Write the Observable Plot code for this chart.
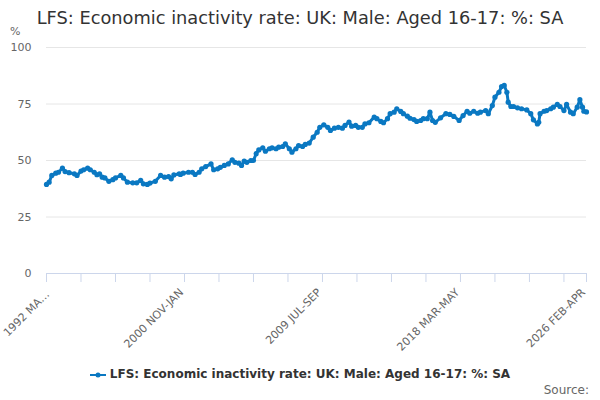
<!DOCTYPE html>
<html>
<head>
<meta charset="utf-8">
<script src="https://cdn.jsdelivr.net/npm/d3@7"></script>
<script src="https://cdn.jsdelivr.net/npm/@observablehq/plot@0.6"></script>
<style>
  body { margin:0; background:#fff; font-family:"DejaVu Sans", sans-serif; }
  #wrap { position:relative; width:600px; height:400px; overflow:hidden; }
  #title { position:absolute; left:0; top:6px; width:600px; text-align:center; font-size:17.8px; line-height:24px; color:#333; }
  #unit { position:absolute; left:10px; top:25px; font-size:11px; color:#666; }
  #chart { position:absolute; left:0; top:0; }
  #legend { position:absolute; left:0; top:366px; width:600px; text-align:center; font-size:12px; font-weight:bold; color:#333; line-height:16px; }
  #legend svg { vertical-align:middle; margin-right:4px; }
  #source { position:absolute; right:11px; top:383px; font-size:12px; color:#666; }
</style>
</head>
<body>
<div id="wrap">
  <div id="chart"></div>
  <div id="title">LFS: Economic inactivity rate: UK: Male: Aged 16-17: %: SA</div>
  <div id="unit">%</div>
  <div id="legend"></div>
  <div id="source">Source:</div>
</div>
<script>
// Month index from 1992 MAR-MAY (0) to 2026 FEB-APR (407)
const monthIndex = [0,2,4,7,9,12,14,17,21,23,26,28,31,33,36,38,40,42,44,47,50,52,56,58,61,65,68,71,73,76,78,82,86,89,92,94,96,100,101,103,107,110,112,115,117,120,124,126,129,131,134,137,140,142,145,147,149,151,154,156,158,160,163,165,168,170,173,175,178,180,183,185,188,190,193,195,198,201,204,206,209,212,214,217,220,223,225,228,230,233,235,238,240,243,247,249,252,254,257,259,262,264,267,269,272,274,277,279,282,284,287,289,291,293,297,301,304,307,311,314,317,319,322,325,327,331,333,336,338,341,343,345,347,348,350,352,355,358,362,365,367,370,371,372,375,377,380,382,385,387,390,392,395,397,400,402,404,405,407];
const rate = [39.4,40.4,43.4,44.4,44.8,46.6,45.1,44.6,44.1,43.4,45.3,45.9,46.6,45.9,44.8,43.7,44.1,42.6,42.3,40.8,41.5,42.3,43.4,42.3,40.4,40.1,40.1,41.2,39.7,39.4,40.0,40.8,43.4,42.6,42.9,41.9,43.6,44.1,43.8,44.4,44.8,44.8,43.8,44.8,46.3,47.3,48.5,45.9,46.3,47.0,47.8,48.5,50.3,49.2,48.8,47.8,49.7,49.2,50.0,50.0,53.0,54.7,55.6,54.1,55.2,55.6,55.2,55.9,56.2,57.4,55.2,53.7,55.2,56.6,56.2,57.1,57.7,60.3,62.5,64.7,65.8,64.7,63.3,64.3,64.7,64.3,65.5,67.0,65.2,65.5,64.7,64.7,66.2,66.7,69.2,68.5,67.3,66.7,68.5,70.7,71.4,72.9,71.7,70.7,69.6,68.7,68.1,67.3,67.7,68.5,68.5,71.4,67.7,66.9,68.9,70.7,70.4,69.5,67.7,69.9,71.8,70.9,71.8,70.9,71.4,72.1,70.7,74.3,78.0,80.2,82.7,83.2,80.2,75.8,73.9,73.9,73.3,72.9,72.4,70.7,68.0,66.2,66.9,70.7,71.8,72.1,72.9,73.6,74.8,73.9,72.1,74.8,71.4,70.7,73.6,76.9,73.6,71.8,71.5];

const minorTicks = [0,26,52,78,104,130,156,182,208,234,260,286,312,338,364,390,407];
const labelTicks = [0,104,208,312,407];
const tickLabels = ["1992 MA…","2000 NOV-JAN","2009 JUL-SEP","2018 MAR-MAY","2026 FEB-APR"];
const yTicks = [0,25,50,75,100];
const seriesName = "LFS: Economic inactivity rate: UK: Male: Aged 16-17: %: SA";
const color = "#0a78c2";

const data = monthIndex.map((m, k) => ({m, v: rate[k]}));
const fmt = d => tickLabels[labelTicks.indexOf(d)];

const chart = Plot.plot({
  width: 600,
  height: 345,
  marginTop: 47,
  marginLeft: 46,
  marginRight: 14,
  marginBottom: 72,
  x: {domain: [0, 407], axis: null},
  y: {domain: [0, 100], axis: null},
  style: {fontFamily: "DejaVu Sans", fontSize: "11px", color: "#666", background: "transparent", overflow: "visible"},
  marks: [
    Plot.gridY(yTicks.slice(1), {stroke: "#e6e6e6", strokeOpacity: 1}),
    Plot.axisY(yTicks, {tickSize: 0, tickPadding: 15, label: null, fill: "#666"}),
    Plot.axisX(minorTicks, {tickSize: 9, tickFormat: () => "", stroke: "#ccd6eb", strokeOpacity: 1, label: null}),
    Plot.axisX(labelTicks.slice(0, 1), {tickSize: 0, tickPadding: 19, tickRotate: -45, label: null, fill: "#666", dx: 1, tickFormat: fmt}),
    Plot.axisX(labelTicks.slice(1), {tickSize: 0, tickPadding: 17, tickRotate: -45, label: null, fill: "#666", dx: -3, tickFormat: fmt}),
    Plot.ruleY([0], {stroke: "#ccd6eb"}),
    Plot.line(data, {x: "m", y: "v", stroke: color, strokeWidth: 3}),
    Plot.dot(data, {x: "m", y: "v", r: 2.6, fill: color, stroke: null})
  ]
});
document.getElementById("chart").appendChild(chart);

document.getElementById("legend").innerHTML =
  `<svg width="16" height="10"><line x1="0" y1="5" x2="16" y2="5" stroke="${color}" stroke-width="2"/><circle cx="8" cy="5" r="2.5" fill="${color}"/></svg>` + seriesName;
</script>
</body>
</html>
